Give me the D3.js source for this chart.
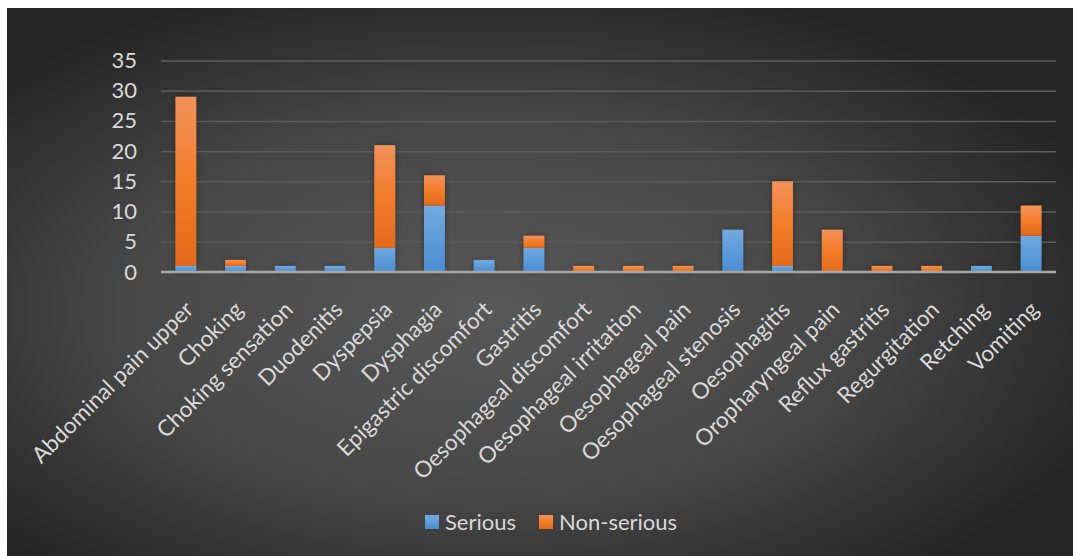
<!DOCTYPE html>
<html>
<head>
<meta charset="utf-8">
<script src="https://cdn.jsdelivr.net/npm/d3@7"></script>
<style>
  body { margin: 0; background: #fff; }
  svg { display: block; }
  .tick text { fill: #d9d9d9; font-family: Lato, "Open Sans", sans-serif; font-size: 22px; }
  .cat-label { fill: #d9d9d9; font-family: Lato, "Open Sans", sans-serif; font-size: 22.5px; }
  .legend-label { fill: #d9d9d9; font-family: Lato, "Open Sans", sans-serif; font-size: 22px; }
</style>
</head>
<body>
<svg id="chart"></svg>
<script>
const categories = [
  "Abdominal pain upper", "Choking", "Choking sensation", "Duodenitis", "Dyspepsia",
  "Dysphagia", "Epigastric discomfort", "Gastritis", "Oesophageal discomfort",
  "Oesophageal irritation", "Oesophageal pain", "Oesophageal stenosis", "Oesophagitis",
  "Oropharyngeal pain", "Reflux gastritis", "Regurgitation", "Retching", "Vomiting"
];
const serious    = [1, 1, 1, 1, 4, 11, 2, 4, 0, 0, 0, 7, 1, 0, 0, 0, 1, 6];
const nonSerious = [28, 1, 0, 0, 17, 5, 0, 2, 1, 1, 1, 0, 14, 7, 1, 1, 0, 5];
const seriesNames = ["Serious", "Non-serious"];
const yTicks = [0, 5, 10, 15, 20, 25, 30, 35];

const width = 1073, height = 556;
const margin = {top: 60.5, left: 161, right: 1073 - 1056, bottom: 556 - 272};

const svg = d3.select('#chart').attr('width', width).attr('height', height);
const defs = svg.append('defs');

// background radial gradient
const bg = defs.append('radialGradient').attr('id', 'bg')
  .attr('cx', '45%').attr('cy', '55%').attr('r', '62%');
bg.append('stop').attr('offset', '0%').attr('stop-color', '#585858');
bg.append('stop').attr('offset', '55%').attr('stop-color', '#474747');
bg.append('stop').attr('offset', '100%').attr('stop-color', '#252525');

const blueGrad = defs.append('linearGradient').attr('id', 'blueGrad')
  .attr('x1', 0).attr('y1', 0).attr('x2', 0).attr('y2', 1);
blueGrad.append('stop').attr('offset', '0%').attr('stop-color', '#72aae0');
blueGrad.append('stop').attr('offset', '100%').attr('stop-color', '#4a8dd3');

const orangeGrad = defs.append('linearGradient').attr('id', 'orangeGrad')
  .attr('x1', 0).attr('y1', 0).attr('x2', 0).attr('y2', 1);
orangeGrad.append('stop').attr('offset', '0%').attr('stop-color', '#f1915a');
orangeGrad.append('stop').attr('offset', '50%').attr('stop-color', '#f47d2a');
orangeGrad.append('stop').attr('offset', '100%').attr('stop-color', '#e2691a');

const shadow = defs.append('filter').attr('id', 'shadow')
  .attr('x', '-50%').attr('y', '-20%').attr('width', '200%').attr('height', '140%');
shadow.append('feDropShadow').attr('dx', 0).attr('dy', 0).attr('stdDeviation', 3)
  .attr('flood-color', '#000').attr('flood-opacity', 0.35);

svg.append('rect').attr('x', 7).attr('y', 8).attr('width', width - 7).attr('height', height - 8)
  .attr('fill', 'url(#bg)');

const innerW = width - margin.left - margin.right;
const innerH = height - margin.top - margin.bottom;

const chart = svg.append('g').attr('transform', `translate(${margin.left},${margin.top})`);

const xScale = d3.scaleBand().domain(categories).range([0, innerW]).paddingInner(0.58).paddingOuter(0.29);
const yScale = d3.scaleLinear().domain([0, 35]).range([innerH, 0]);

// gridlines + y labels
const yAxis = d3.axisLeft(yScale).tickValues(yTicks).tickSize(-innerW).tickPadding(24);
chart.append('g').attr('class', 'axis y-axis').call(yAxis)
  .call(g => g.select('.domain').remove())
  .call(g => g.selectAll('.tick line').attr('stroke', '#5c5c5c').attr('stroke-width', 1.5))
  .call(g => g.selectAll('.tick').filter(d => d === 0).select('line').remove());

// stacked data
const rows = categories.map((c, i) => ({cat: c, Serious: serious[i], 'Non-serious': nonSerious[i]}));
const stacked = d3.stack().keys(seriesNames)(rows);
const fills = {'Serious': 'url(#blueGrad)', 'Non-serious': 'url(#orangeGrad)'};

chart.append('g').attr('filter', 'url(#shadow)')
  .selectAll('g.series')
  .data(stacked)
  .join('g')
  .attr('class', 'series')
  .attr('fill', d => fills[d.key])
  .selectAll('rect')
  .data(d => d.filter(s => s[1] - s[0] > 0))
  .join('rect')
  .attr('x', d => xScale(d.data.cat))
  .attr('width', xScale.bandwidth())
  .attr('y', d => yScale(d[1]))
  .attr('height', d => yScale(d[0]) - yScale(d[1]));

// x axis line
chart.append('line')
  .attr('x1', 0).attr('x2', innerW)
  .attr('y1', yScale(0)).attr('y2', yScale(0))
  .attr('stroke', '#a6a6a6').attr('stroke-width', 2.5);

// rotated category labels
chart.append('g').selectAll('text')
  .data(categories)
  .join('text')
  .attr('class', 'cat-label')
  .attr('text-anchor', 'end')
  .attr('transform', d => `translate(${xScale(d) + xScale.bandwidth() / 2 + 9},${yScale(0) + 39}) rotate(-45)`)
  .text(d => d);

// legend
const legend = svg.append('g').attr('transform', 'translate(425,515)');
const legendX = [0, 114];
legend.selectAll('rect')
  .data(seriesNames)
  .join('rect')
  .attr('x', (d, i) => legendX[i]).attr('y', 0)
  .attr('width', 14).attr('height', 14)
  .attr('fill', d => fills[d]);
legend.selectAll('text')
  .data(seriesNames)
  .join('text')
  .attr('class', 'legend-label')
  .attr('x', (d, i) => legendX[i] + 20).attr('y', 15)
  .text(d => d);
</script>
</body>
</html>
